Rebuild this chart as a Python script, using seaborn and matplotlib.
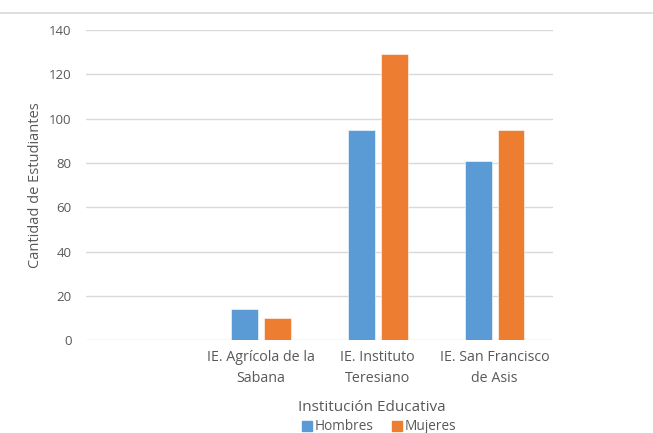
import matplotlib
matplotlib.use("Agg")
import matplotlib.pyplot as plt
import matplotlib.lines as mlines
import pandas as pd
import seaborn as sns

CATEGORIES = ["", "IE. Agrícola de la\nSabana", "IE. Instituto\nTeresiano", "IE. San Francisco\nde Asis"]
HOMBRES = [None, 14, 95, 81]
MUJERES = [None, 10, 129, 95]
SERIES = ["Hombres", "Mujeres"]
COLORS = ["#5B9BD5", "#ED7D31"]
GREY = "#595959"

df = pd.DataFrame({
    "institucion": CATEGORIES * 2,
    "sexo": [SERIES[0]] * len(CATEGORIES) + [SERIES[1]] * len(CATEGORIES),
    "cantidad": HOMBRES + MUJERES,
})

sns.set_style("white")
plt.rcParams["font.family"] = ["Open Sans", "DejaVu Sans"]

fig = plt.figure(figsize=(6.53, 4.33), dpi=100)
ax = fig.add_axes([0.131, 0.214, 0.716, 0.717])

sns.barplot(data=df, x="institucion", y="cantidad", hue="sexo", order=CATEGORIES,
            hue_order=SERIES, palette=COLORS, saturation=1, width=0.564, gap=0.19,
            edgecolor="white", linewidth=0.4, ax=ax, legend=False, zorder=3)

ax.set_ylim(0, 140)
ax.set_yticks(range(0, 141, 20))
ax.set_xlim(-0.5, len(CATEGORIES) - 0.5)
ax.yaxis.grid(True, color="#d9d9d9", linewidth=1, zorder=0)
ax.set_axisbelow(True)
for s in ax.spines.values():
    s.set_visible(False)
ax.tick_params(axis="both", length=0, colors=GREY, labelsize=9.5)
ax.tick_params(axis="x", pad=7, labelsize=10.3)
ax.tick_params(axis="y", pad=10)
for lbl in ax.get_xticklabels():
    lbl.set_linespacing(1.55)
ax.set_xlabel("")
ax.set_ylabel("Cantidad de Estudiantes", color=GREY, fontsize=10.5, labelpad=4)

fig.text(0.570, 0.060, "Institución Educativa", ha="center", va="center",
         color=GREY, fontsize=11)

handles = [mlines.Line2D([], [], marker="s", linestyle="none", markersize=7,
                         color=c, label=l) for c, l in zip(COLORS, SERIES)]
leg = fig.legend(handles=handles, loc="center", bbox_to_anchor=(0.579, 0.014),
                 ncol=2, frameon=False, fontsize=9.8, handletextpad=0.1,
                 columnspacing=1.2, handlelength=1.0)
for t in leg.get_texts():
    t.set_color(GREY)

fig.add_artist(mlines.Line2D([0.0, 1.0], [0.969, 0.969], color="#d9d9d9",
                             linewidth=1.2, transform=fig.transFigure))

fig.savefig("out.png", dpi=100)
